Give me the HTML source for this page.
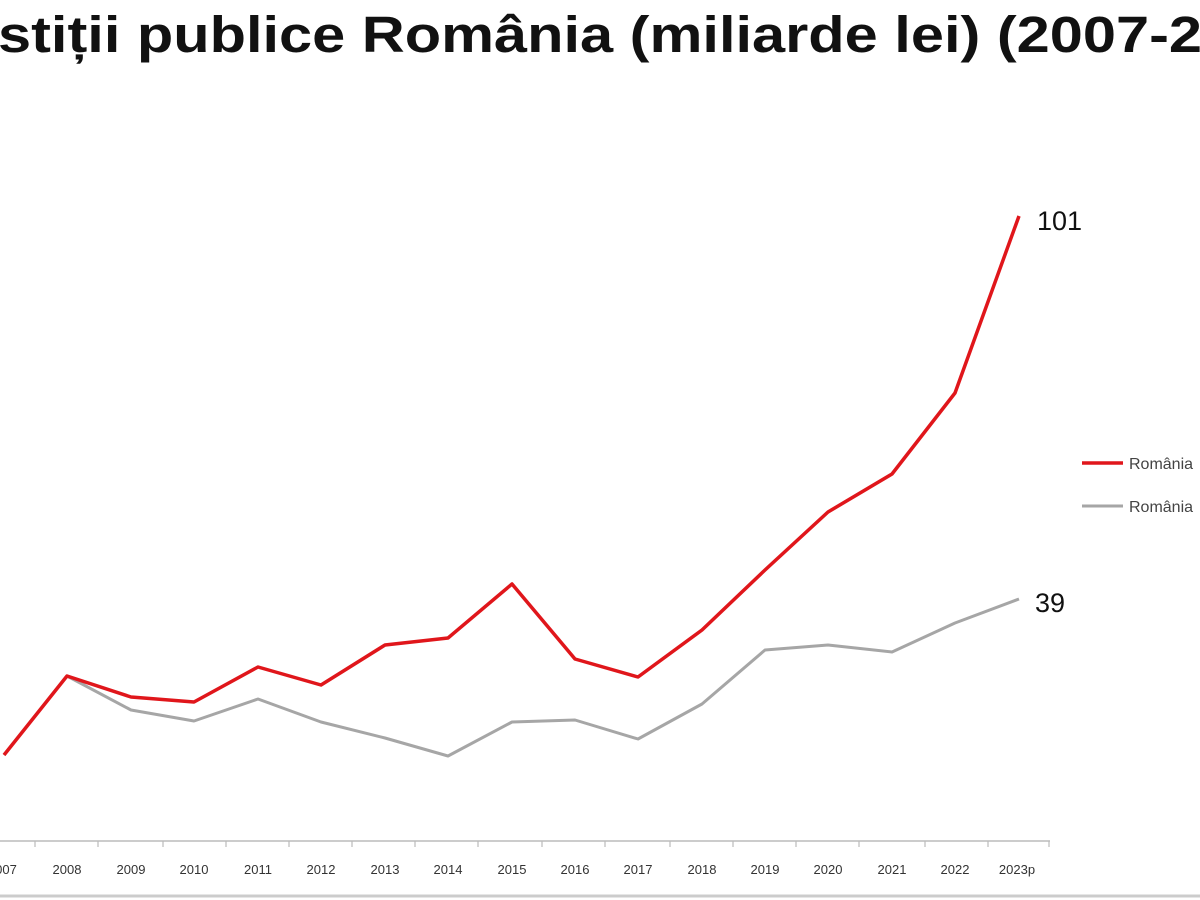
<!DOCTYPE html>
<html><head><meta charset="utf-8"><style>html,body{margin:0;padding:0;background:#fff;overflow:hidden}</style></head>
<body>
<svg width="1200" height="900" xmlns="http://www.w3.org/2000/svg" style="display:block">
<rect width="1200" height="900" fill="#fff"/>
<text x="-2" y="52" font-family="Liberation Sans, sans-serif" font-weight="bold" font-size="51" fill="#111" textLength="1204" lengthAdjust="spacingAndGlyphs">stiții publice România (miliarde lei) (2007-2</text>
<line x1="0" y1="841" x2="1050" y2="841" stroke="#bbb" stroke-width="1.5"/>
<g stroke="#bbb" stroke-width="1.2">
<line x1="35" y1="841" x2="35" y2="847"/><line x1="98" y1="841" x2="98" y2="847"/><line x1="163" y1="841" x2="163" y2="847"/><line x1="226" y1="841" x2="226" y2="847"/><line x1="289" y1="841" x2="289" y2="847"/><line x1="352" y1="841" x2="352" y2="847"/><line x1="415" y1="841" x2="415" y2="847"/><line x1="478" y1="841" x2="478" y2="847"/><line x1="542" y1="841" x2="542" y2="847"/><line x1="605" y1="841" x2="605" y2="847"/><line x1="670" y1="841" x2="670" y2="847"/><line x1="733" y1="841" x2="733" y2="847"/><line x1="796" y1="841" x2="796" y2="847"/><line x1="859" y1="841" x2="859" y2="847"/><line x1="925" y1="841" x2="925" y2="847"/><line x1="988" y1="841" x2="988" y2="847"/><line x1="1049" y1="841" x2="1049" y2="847"/>
</g>
<line x1="0" y1="896" x2="1200" y2="896" stroke="#ccc" stroke-width="3"/>
<g font-family="Liberation Sans, sans-serif" font-size="13" fill="#333" text-anchor="middle">
<text x="6" y="874">007</text><text x="67" y="874">2008</text><text x="131" y="874">2009</text><text x="194" y="874">2010</text><text x="258" y="874">2011</text><text x="321" y="874">2012</text><text x="385" y="874">2013</text><text x="448" y="874">2014</text><text x="512" y="874">2015</text><text x="575" y="874">2016</text><text x="638" y="874">2017</text><text x="702" y="874">2018</text><text x="765" y="874">2019</text><text x="828" y="874">2020</text><text x="892" y="874">2021</text><text x="955" y="874">2022</text><text x="1017" y="874">2023p</text>
</g>
<polyline fill="none" stroke="#a6a6a6" stroke-width="3" stroke-linejoin="round" points="4,755 67,676 131,710 194,721 258,699 321,722 385,738 448,756 512,722 575,720 638,739 702,704 765,650 828,645 892,652 955,623 1019,599"/>
<polyline fill="none" stroke="#e0161b" stroke-width="3.5" stroke-linejoin="round" points="4,755 67,676 131,697 194,702 258,667 321,685 385,645 448,638 512,584 575,659 638,677 702,630 765,570 828,512 892,474 955,393 1019,216"/>
<text x="1037" y="230" font-family="Liberation Sans, sans-serif" font-size="27" fill="#111">101</text>
<text x="1035" y="612" font-family="Liberation Sans, sans-serif" font-size="27" fill="#111">39</text>
<line x1="1082" y1="463" x2="1123" y2="463" stroke="#e0161b" stroke-width="3.5"/>
<line x1="1082" y1="506" x2="1123" y2="506" stroke="#a6a6a6" stroke-width="3"/>
<g font-family="Liberation Sans, sans-serif" font-size="16" fill="#444">
<text x="1129" y="469">România</text><text x="1129" y="512">România</text>
</g>
</svg>
</body></html>
